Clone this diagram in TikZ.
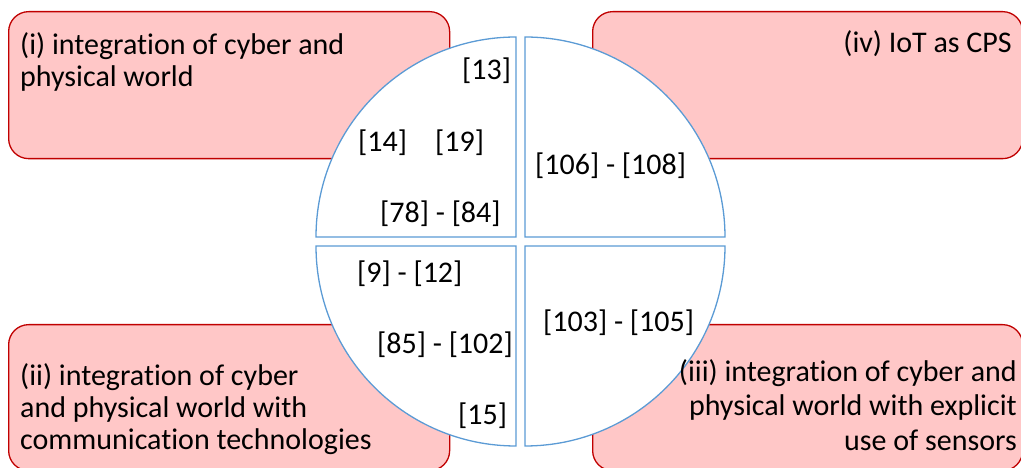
\documentclass[tikz,border=0pt]{standalone}
\usepackage{fontspec}
\setmainfont{Carlito}[Ligatures=NoCommon]
\definecolor{boxfill}{HTML}{FFC7C7}
\definecolor{boxline}{HTML}{C00000}
\definecolor{quadline}{HTML}{5B9BD5}
\tikzset{
  pinkbox/.style={draw=boxline, fill=boxfill, line width=1.3pt, rounded corners=20pt, anchor=north west, inner sep=0pt},
  quad/.style={draw=quadline, fill=white, line width=1.3pt},
  lbl/.style={anchor=base west, inner sep=0pt, font={\fontsize{30}{32}\selectfont}},
  boxtext/.style={inner sep=0pt, font={\fontsize{30}{32}\selectfont}},
}
\begin{document}
\begin{tikzpicture}[x=1pt,y=1pt]
\useasboundingbox (0,0) rectangle (1021,468);
% boxes
\node[pinkbox, minimum width=441pt, minimum height=147pt] (b1) at (8,457) {};
\node[pinkbox, minimum width=430pt, minimum height=147pt] (b4) at (592,457) {};
\node[pinkbox, minimum width=441pt, minimum height=146pt] (b2) at (8,144) {};
\node[pinkbox, minimum width=430pt, minimum height=146pt] (b3) at (592,144) {};
% quadrants
\draw[quad] (516,231) -- (316,231) arc[start angle=180,end angle=90,radius=200] -- cycle;
\draw[quad] (525,231) -- (525,431) arc[start angle=90,end angle=0,radius=200] -- cycle;
\draw[quad] (516,222) -- (316,222) arc[start angle=180,end angle=270,radius=200] -- cycle;
\draw[quad] (525,222) -- (725,222) arc[start angle=0,end angle=-90,radius=200] -- cycle;
% box texts (base anchor = last line)
\node[boxtext, anchor=base west, align=left] (t1) at (20,381.3) {(i) integration of cyber and\\physical world};
\node[boxtext, anchor=base east, align=right] (t4) at (1012,415) {(iv) IoT as CPS};
\node[boxtext, anchor=base west, align=left] (t2) at (20,18) {(ii) integration of cyber\\and physical world with\\communication technologies};
\node[boxtext, anchor=base east, align=right, font={\fontsize{30}{34.5}\selectfont}] (t3) at (1017,17.5) {(iii) integration of cyber and\\physical world with explicit\\use of sensors};
% quadrant labels
\node[lbl] (l13) at (462,388) {[13]};
\node[lbl] (l14) at (358,316) {[14]};
\node[lbl] (l19) at (435,316) {[19]};
\node[lbl] (l78) at (380,245) {[78] - [84]};
\node[lbl] (l106) at (535,293) {[106] - [108]};
\node[lbl] (l9) at (357,185) {[9] - [12]};
\node[lbl] (l85) at (377,114) {[85] - [102]};
\node[lbl] (l15) at (458,43) {[15]};
\node[lbl] (l103) at (543,136.3) {[103] - [105]};
\end{tikzpicture}
\end{document}
